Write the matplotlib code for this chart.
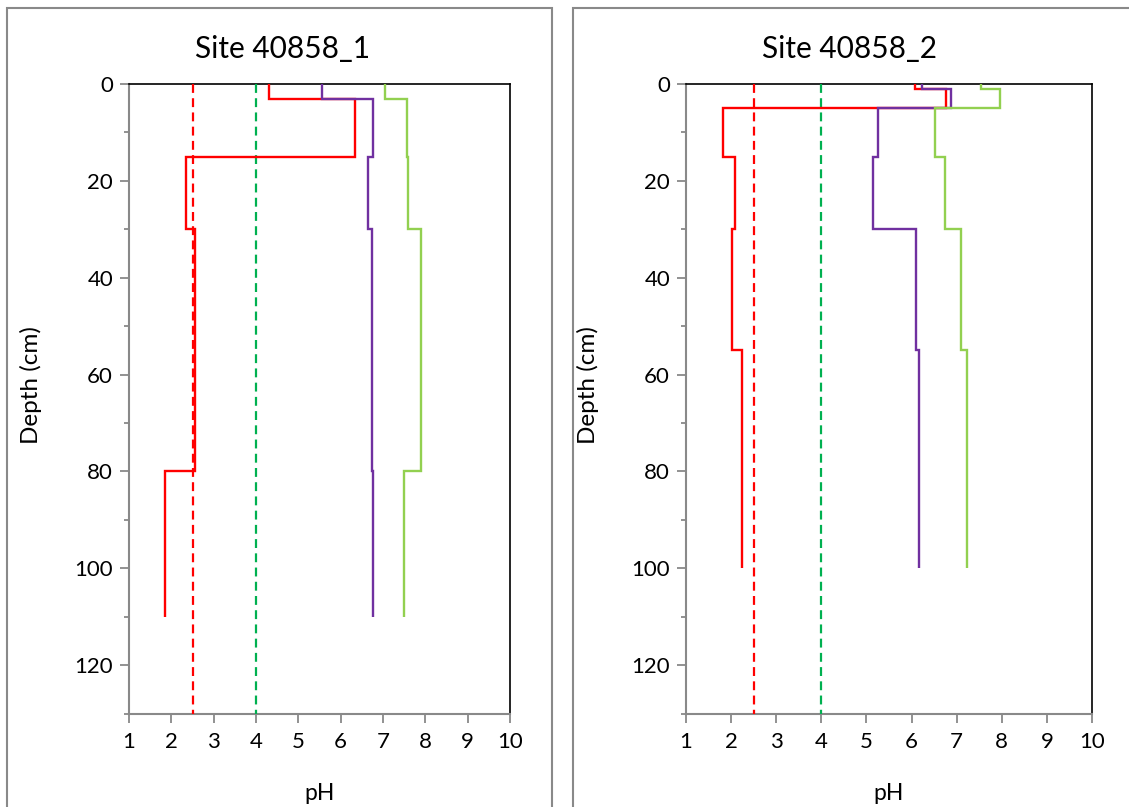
import numpy as np
import matplotlib
matplotlib.use("Agg")
import matplotlib.pyplot as plt
from matplotlib.patches import Rectangle

# ---------------- data ----------------
titles = ["Site 40858_1", "Site 40858_2"]

depth_edges_1 = [0, 3, 15, 30, 80, 110]
red_1 = [4.3, 6.35, 2.35, 2.55, 1.85]
purple_1 = [5.55, 6.77, 6.64, 6.75, 6.77]
green_1 = [7.05, 7.57, 7.6, 7.9, 7.5]

depth_edges_2 = [0, 1, 5, 15, 30, 55, 100]
red_2 = [6.07, 6.77, 1.82, 2.08, 2.02, 2.24]
purple_2 = [6.24, 6.88, 5.25, 5.14, 6.09, 6.16]
green_2 = [7.55, 7.95, 6.53, 6.75, 7.1, 7.22]

threshold_red = 2.5
threshold_green = 4.0
x_ticks = list(range(1, 11))
y_major = list(range(0, 121, 20))
y_minor = list(range(10, 131, 20))

# ---------------- style ----------------
W, H = 1129, 807
C_RED = "#FF0000"
C_PURPLE = "#7030A0"
C_LGREEN = "#92D050"
C_DGREEN = "#00B050"
C_GRAY = "#898989"
FONT = ["Lato", "DejaVu Sans"]
plt.rcParams["font.family"] = FONT

fig = plt.figure(figsize=(W / 100, H / 100), dpi=100)


def fx(x):
    return x / W


def fy(y):
    return 1 - y / H


# panel frames
for x0, x1 in [(7, 552), (573, 1140)]:
    fig.patches.append(Rectangle((fx(x0), fy(830)), fx(x1) - fx(x0), fy(8) - fy(830),
                                 transform=fig.transFigure, fill=False,
                                 edgecolor=C_GRAY, lw=1.5, zorder=0))

panels = [
    dict(x0=129, x1=510, title_x=283, edges=depth_edges_1,
         red=red_1, purple=purple_1, green=green_1),
    dict(x0=686, x1=1092, title_x=850, edges=depth_edges_2,
         red=red_2, purple=purple_2, green=green_2),
]

y_top, y_bot = 84, 713.5

for i, p in enumerate(panels):
    ax = fig.add_axes([fx(p["x0"]), fy(y_bot), fx(p["x1"]) - fx(p["x0"]), fy(y_top) - fy(y_bot)])
    ax.set_xlim(1, 10)
    ax.set_ylim(130, 0)

    # threshold lines
    ax.plot([threshold_red, threshold_red], [0, 130], color=C_RED, lw=1.6,
            dashes=(4, 2.4), zorder=3, clip_on=False)
    ax.plot([threshold_green, threshold_green], [0, 130], color=C_DGREEN, lw=1.6,
            dashes=(4, 2.4), zorder=3, clip_on=False)

    # step profiles
    for vals, col in [(p["red"], C_RED), (p["purple"], C_PURPLE), (p["green"], C_LGREEN)]:
        ax.stairs(vals, p["edges"], orientation="horizontal", baseline=None,
                  color=col, lw=1.7, zorder=4)

    ax.set_xticks(x_ticks)
    ax.set_yticks(y_major)
    ax.set_yticks(y_minor, minor=True)
    ax.tick_params(axis="x", which="major", direction="out", length=6.5, width=1.3,
                   color=C_GRAY, labelsize=16, pad=6.5)
    ax.tick_params(axis="y", which="major", direction="out", length=6.5, width=1.3,
                   color=C_GRAY, labelsize=16, pad=5)
    ax.tick_params(axis="y", which="minor", direction="out", length=3.6, width=1.3,
                   color=C_GRAY)

    for s in ["top", "right"]:
        ax.spines[s].set_color("black")
        ax.spines[s].set_linewidth(1.2)
    for s in ["left", "bottom"]:
        ax.spines[s].set_color(C_GRAY)
        ax.spines[s].set_linewidth(1.5)

    fig.text(fx(p["title_x"]), fy(49), titles[i], ha="center", va="center", fontsize=21.5)
    fig.text(fx((p["x0"] + p["x1"]) / 2), fy(793), "pH", ha="center", va="center", fontsize=16.5)
    fig.text(fx(p["x0"] - 98), fy(385), "Depth (cm)", ha="center", va="center",
             rotation=90, fontsize=17.5)

fig.savefig("out.png", dpi=100)
